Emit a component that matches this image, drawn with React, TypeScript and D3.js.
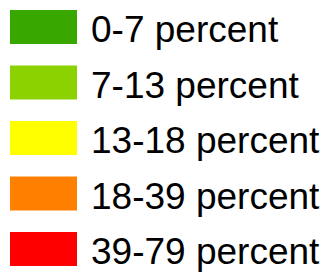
import React, { useEffect, useRef } from 'react';
import * as d3 from 'd3';

const labels = ['0-7 percent', '7-13 percent', '13-18 percent', '18-39 percent', '39-79 percent'];
const colors = ['#38a800', '#8cd200', '#ffff00', '#ff8000', '#ff0000'];

const width = 331;
const height = 272;

const App = () => {
  const ref = useRef<SVGSVGElement>(null);

  useEffect(() => {
    const svg = d3.select(ref.current);
    svg.selectAll('*').remove();

    // row positions: top of each swatch
    const y = d3.scaleLinear().domain([0, labels.length - 1]).range([10, 232]);
    const swatchW = 67;
    const swatchH = 34;

    const rows = svg.append('g')
      .selectAll('g')
      .data(labels)
      .enter()
      .append('g')
      .attr('transform', (d, i) => 'translate(10,' + y(i) + ')');

    rows.append('rect')
      .attr('width', swatchW)
      .attr('height', swatchH)
      .attr('fill', (d, i) => colors[i]);

    rows.append('text')
      .attr('x', 81)
      .attr('y', swatchH - 2)
      .attr('font-family', 'Liberation Sans, Arial, sans-serif')
      .attr('font-size', 37)
      .attr('fill', '#000')
      .text(d => d);
  }, []);

  return (
    <svg
      ref={ref}
      width={width}
      height={height}
      style={{ position: 'absolute', left: 0, top: 0, background: '#fff' }}
    />
  );
};

export default App;
